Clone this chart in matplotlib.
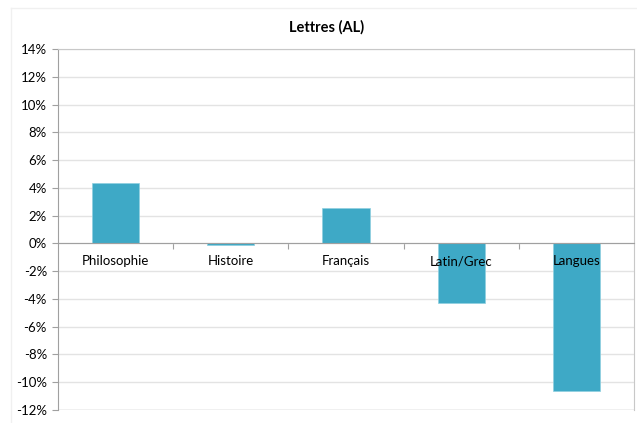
import matplotlib
matplotlib.use("Agg")
import matplotlib.pyplot as plt
import numpy as np
from matplotlib.ticker import FuncFormatter, FixedLocator
from matplotlib.lines import Line2D

categories = ["Philosophie", "Histoire", "Français", "Latin/Grec", "Langues"]
values = [4.32, -0.12, 2.52, -4.32, -10.62]
yticks = list(range(-12, 15, 2))
title = "Lettres (AL)"

plt.rcParams['font.family'] = ['Lato', 'DejaVu Sans']

fig = plt.figure(figsize=(6.37, 4.23), dpi=100)
# faint outer chart-area border (top and left only visible)
fig.lines.append(Line2D([11/637, 11/637], [0, 1 - 8/423], transform=fig.transFigure,
                        color='#f0f0f0', linewidth=1.0))
fig.lines.append(Line2D([11/637, 1], [1 - 8/423, 1 - 8/423], transform=fig.transFigure,
                        color='#f0f0f0', linewidth=1.0))
ax = fig.add_axes([58/637, 1 - 410/423, (634 - 58)/637, (410 - 49)/423])

x = np.arange(len(categories))
ax.bar(x, values, width=0.41, color='#3EA9C6', edgecolor='#8fd0e0', linewidth=0.5, zorder=3)

ax.set_xlim(-0.5, len(categories) - 0.5)
ax.set_ylim(-12, 14)
ax.set_yticks(yticks)
ax.yaxis.set_major_formatter(FuncFormatter(lambda v, p: f"{int(v)}%"))
ax.tick_params(axis='y', length=4, width=0.8, color='#a0a0a0', labelsize=9.5, pad=4, direction='out')
ax.grid(axis='y', color='#e3e3e3', linewidth=1.0, zorder=0)

# x axis at zero
ax.spines['bottom'].set_position(('data', 0))
ax.spines['bottom'].set_color('#a0a0a0')
ax.spines['bottom'].set_zorder(4)
ax.set_xticks(x)
ax.set_xticklabels([])
ax.tick_params(axis='x', which='major', length=0)
ax.xaxis.set_minor_locator(FixedLocator(np.arange(0.5, len(categories) - 0.5, 1)))
ax.tick_params(axis='x', which='minor', length=4, width=0.8, color='#a0a0a0', direction='out')
for xi, c in zip(x, categories):
    ax.annotate(c, xy=(xi, 0), xytext=(0, -18), textcoords='offset pixels',
                ha='center', va='center', fontsize=9.5, color='#000000', zorder=5)

ax.spines['left'].set_color('#a0a0a0')
for s in ['top', 'right']:
    ax.spines[s].set_color('#c8c8c8')

# bottom box line
ax.axhline(-12, color='#c8c8c8', linewidth=1.0, zorder=1)

fig.text(327/637, 1 - 27/423, title, ha='center', va='center', fontsize=10.5, fontweight='bold')

fig.savefig("out.png", dpi=100)
